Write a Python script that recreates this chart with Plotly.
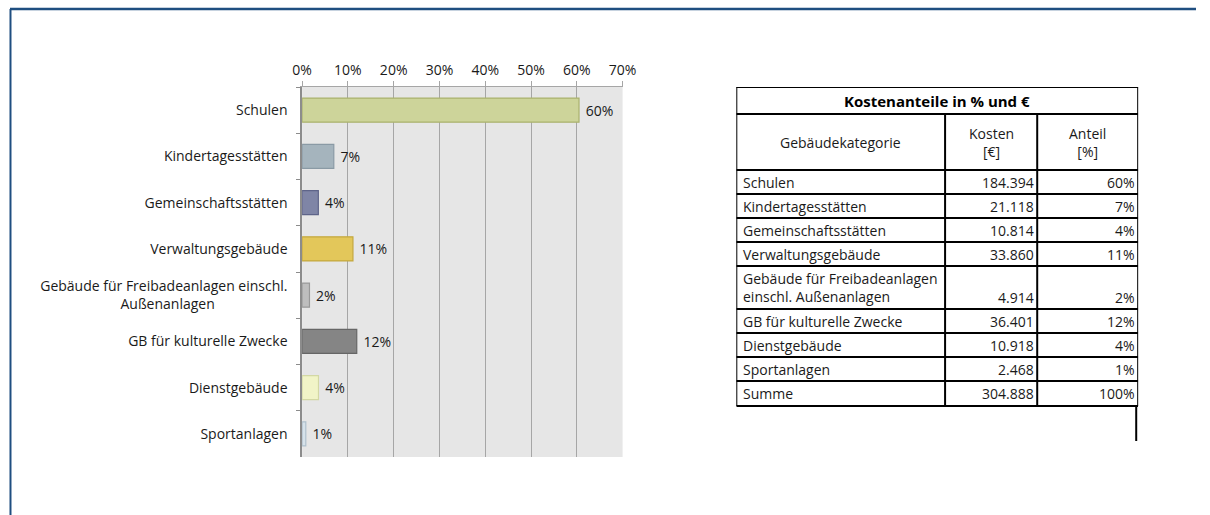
import plotly.graph_objects as go

# categories as drawn in the bar chart and in the table
chart_labels = [
    "Schulen",
    "Kindertagesstätten",
    "Gemeinschaftsstätten",
    "Verwaltungsgebäude",
    "Gebäude für Freibadeanlagen einschl.<br>Außenanlagen" + "\u00a0" * 20,
    "GB für kulturelle Zwecke",
    "Dienstgebäude",
    "Sportanlagen",
]
table_labels = [
    "Schulen",
    "Kindertagesstätten",
    "Gemeinschaftsstätten",
    "Verwaltungsgebäude",
    "Gebäude für Freibadeanlagen<br>einschl. Außenanlagen",
    "GB für kulturelle Zwecke",
    "Dienstgebäude",
    "Sportanlagen",
]
costs = [184394, 21118, 10814, 33860, 4914, 36401, 10918, 2468]
total_cost = 304888
shares = [c / total_cost for c in costs]

table_title = "Kostenanteile in % und €"
table_header = ["Gebäudekategorie", "Kosten<br>[€]", "Anteil<br>[%]"]

bar_fill = ["#CDD49A", "#A5B4BD", "#7F85A6", "#E3C75A",
            "#BEBEBE", "#858585", "#F1F4C7", "#D6E2EA"]
bar_edge = ["#A9B16D", "#8A9AA5", "#5E6489", "#C4A83E",
            "#999999", "#666666", "#D3D8A4", "#AFC0CC"]

FONT = "Open Sans"
TXT = "#1A1A1A"


def de_num(v):
    return f"{v:,}".replace(",", ".")


fig = go.Figure()

fig.add_trace(go.Bar(
    x=shares,
    y=chart_labels,
    orientation="h",
    width=0.52,
    marker=dict(color=bar_fill, line=dict(color=bar_edge, width=1.2)),
    texttemplate="\u00a0%{x:.0%}",
    textposition="outside",
    textfont=dict(size=14, color=TXT, family=FONT),
    cliponaxis=False,
    showlegend=False,
))

# grey plot background for the bar chart only
fig.add_shape(type="rect", xref="x domain", yref="y domain",
              x0=0, x1=1, y0=0, y1=1, layer="below",
              fillcolor="#E6E6E6", line=dict(width=0))

# ---- table drawn on its own axis pair (units ~ pixels) ----
T_LEFT, T_TOP = 741, 87
col_w = [213, 94, 103]
title_h, head_h, row_h, tall_h, sum_h = 27, 56, 24, 43, 25
col_x = [0]
for w in col_w:
    col_x.append(col_x[-1] + w)

rows = table_labels + ["Summe"]
row_costs = [de_num(c) for c in costs] + [de_num(total_cost)]
row_shares = [f"{s:.0%}" for s in shares] + ["100%"]

row_y = [0, title_h, title_h + head_h]
for lab in rows:
    h = tall_h if "<br>" in lab else (sum_h if lab == "Summe" else row_h)
    row_y.append(row_y[-1] + h)
table_bottom = row_y[-1]
y_span = table_bottom + 45

line_kw = dict(color="black", width=2)
for y in row_y:
    fig.add_shape(type="line", xref="x2", yref="y2", x0=col_x[0], x1=col_x[-1],
                  y0=y, y1=y, line=line_kw)
for x in (col_x[0], col_x[-1]):
    fig.add_shape(type="line", xref="x2", yref="y2", x0=x, x1=x,
                  y0=0, y1=table_bottom, line=line_kw)
for x in col_x[1:-1]:
    fig.add_shape(type="line", xref="x2", yref="y2", x0=x, x1=x,
                  y0=title_h, y1=table_bottom, line=line_kw)
# stray line under the table
fig.add_shape(type="line", xref="x2", yref="y2", x0=col_x[-1] - 2, x1=col_x[-1] - 2,
              y0=table_bottom, y1=table_bottom + 35, line=line_kw)

fig.add_annotation(xref="x2", yref="y2", x=col_x[-1] / 2, y=title_h / 2,
                   text=f"<b>{table_title}</b>", showarrow=False,
                   font=dict(size=15, color="black", family=FONT))
for i, h in enumerate(table_header):
    fig.add_annotation(xref="x2", yref="y2", x=(col_x[i] + col_x[i + 1]) / 2,
                       y=title_h + head_h / 2, text=h, showarrow=False,
                       align="center", font=dict(size=14, color=TXT, family=FONT))

for r, lab in enumerate(rows):
    y0, y1 = row_y[r + 2], row_y[r + 3]
    ymid = (y0 + y1) / 2
    yval = y1 - row_h / 2 if "<br>" in lab else ymid
    fig.add_annotation(xref="x2", yref="y2", x=col_x[0] + 5, y=ymid,
                       text=lab, showarrow=False, xanchor="left", align="left",
                       font=dict(size=14, color=TXT, family=FONT))
    fig.add_annotation(xref="x2", yref="y2", x=col_x[2] - 1, y=yval,
                       text=row_costs[r], showarrow=False, xanchor="right",
                       font=dict(size=14, color=TXT, family=FONT))
    fig.add_annotation(xref="x2", yref="y2", x=col_x[3] - 1, y=yval,
                       text=row_shares[r], showarrow=False, xanchor="right",
                       font=dict(size=14, color=TXT, family=FONT))

fig.update_layout(
    xaxis=dict(
        side="top",
        range=[0, 0.7],
        dtick=0.1,
        tickformat=".0%",
        showgrid=True,
        gridcolor="#A6A6A6",
        gridwidth=1,
        showline=True,
        linecolor="#A6A6A6",
        linewidth=1,
        ticks="outside",
        ticklen=5,
        tickcolor="#A6A6A6",
        tickfont=dict(size=14, color=TXT, family=FONT),
        zeroline=False,
        fixedrange=True,
        domain=[298 / 1210, 625 / 1210],
    ),
    yaxis=dict(
        autorange="reversed",
        showline=True,
        linecolor="#8C8C8C",
        linewidth=1.5,
        ticks="outside",
        tickson="boundaries",
        ticklen=4,
        tickcolor="#8C8C8C",
        ticklabelstandoff=10,
        tickfont=dict(size=14, color=TXT, family=FONT),
        showgrid=False,
        fixedrange=True,
        domain=[1 - 457 / 515, 1 - 87 / 515],
    ),
    xaxis2=dict(domain=[T_LEFT / 1210, (T_LEFT + col_x[-1]) / 1210],
                range=[0, col_x[-1]], visible=False, fixedrange=True, anchor="y2"),
    yaxis2=dict(domain=[1 - (T_TOP + y_span) / 515, 1 - T_TOP / 515],
                range=[y_span, 0], visible=False, fixedrange=True, anchor="x2"),
)

# page frame
frame = "#1F4E80"
fig.add_shape(type="line", xref="paper", yref="paper",
              x0=0, x1=1.0, y0=1 - 9 / 515, y1=1 - 9 / 515,
              line=dict(color=frame, width=2.5))
fig.add_shape(type="line", xref="paper", yref="paper",
              x0=0.5 / 1210, x1=0.5 / 1210, y0=0, y1=1 - 9 / 515,
              line=dict(color=frame, width=2))

fig.update_layout(
    width=1210,
    height=515,
    margin=dict(l=0, r=0, t=0, b=0),
    paper_bgcolor="white",
    plot_bgcolor="white",
    font=dict(family=FONT, size=13, color=TXT),
    showlegend=False,
)

fig.write_html("out.html", config={"displayModeBar": False},
               post_script="document.body.style.margin='0';"
                           "document.body.style.overflow='hidden';")
